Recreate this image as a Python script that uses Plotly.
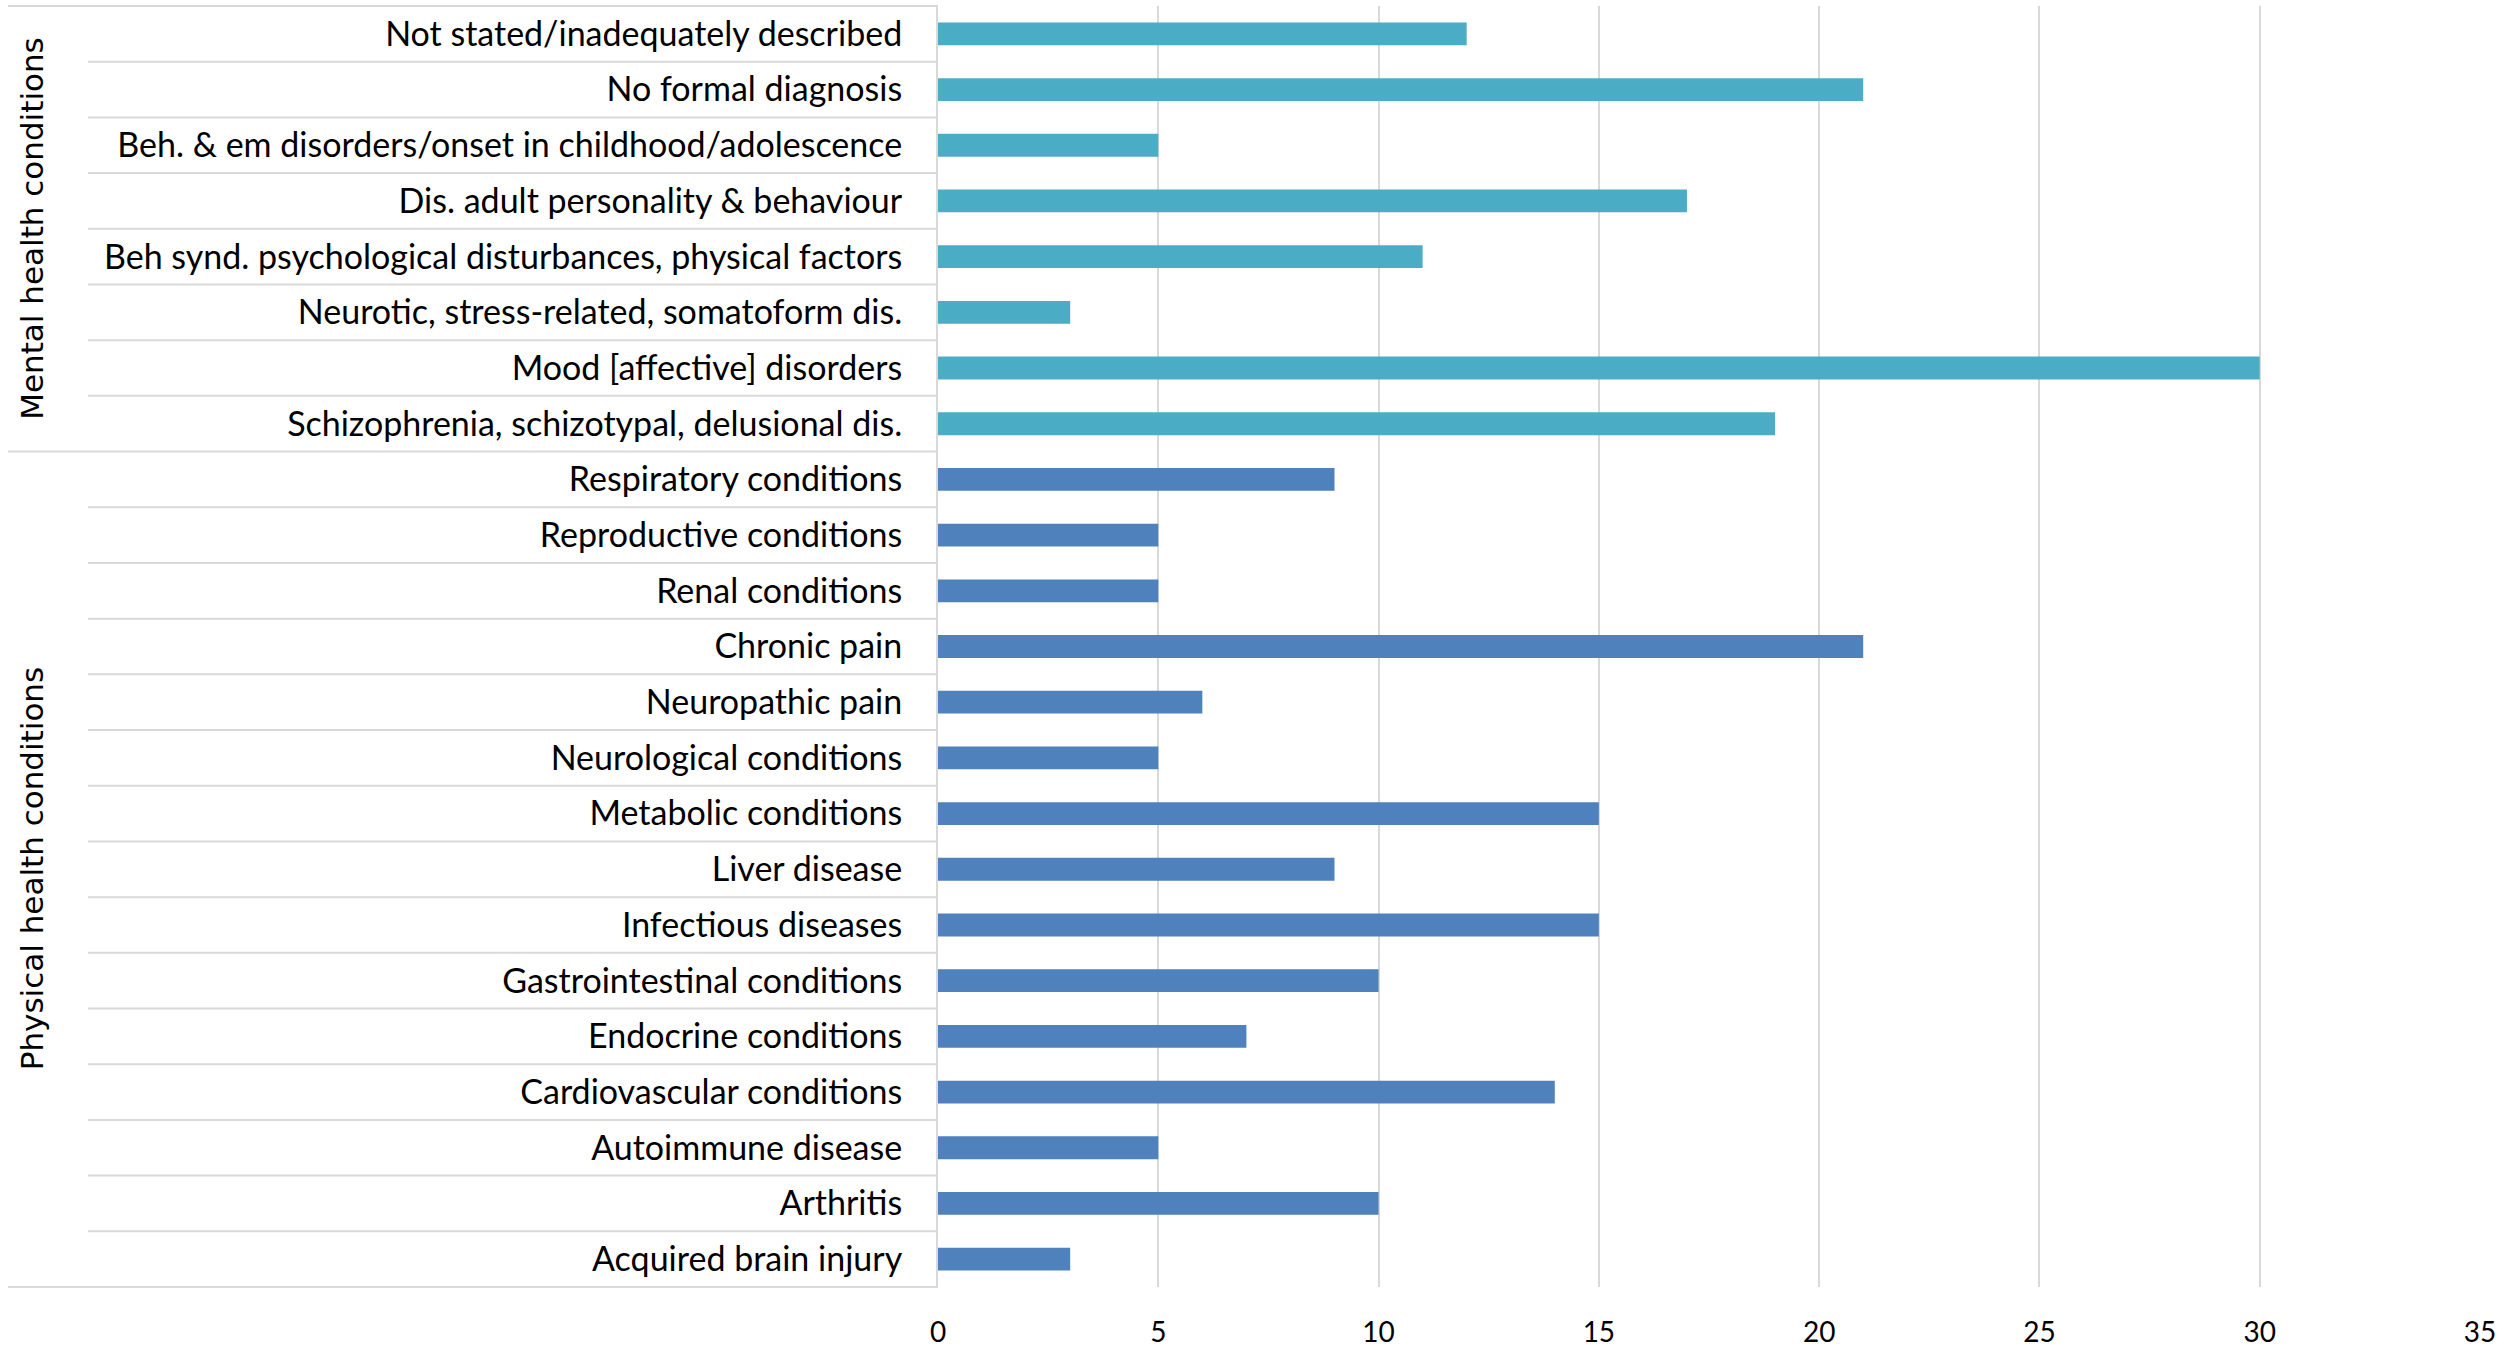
import plotly.graph_objects as go

physical_labels = [
    "Acquired brain injury", "Arthritis", "Autoimmune disease", "Cardiovascular conditions",
    "Endocrine conditions", "Gastrointestinal conditions", "Infectious diseases", "Liver disease",
    "Metabolic conditions", "Neurological conditions", "Neuropathic pain", "Chronic pain",
    "Renal conditions", "Reproductive conditions", "Respiratory conditions",
]
physical_values = [3, 10, 5, 14, 7, 10, 15, 9, 15, 5, 6, 21, 5, 5, 9]

mental_labels = [
    "Schizophrenia, schizotypal, delusional dis.", "Mood [affective] disorders",
    "Neurotic, stress-related, somatoform dis.",
    "Beh synd. psychological disturbances, physical factors",
    "Dis. adult personality & behaviour",
    "Beh. & em disorders/onset in childhood/adolescence",
    "No formal diagnosis", "Not stated/inadequately described",
]
mental_values = [19, 30, 3, 11, 17, 5, 21, 12]

group_names = ["Physical health conditions", "Mental health conditions"]
x_ticks = [0, 5, 10, 15, 20, 25, 30, 35]

all_labels = physical_labels + mental_labels
n = len(all_labels)

W, H = 2509, 1350
ml, mr, mt, mb = 938, 29, 6, 63
pw = W - ml - mr

LABEL_FONT = "Lato, Open Sans, sans-serif"


def px_to_paper_x(px):
    return (px - ml) / pw


fig = go.Figure()
fig.add_trace(go.Bar(y=physical_labels, x=physical_values, orientation="h",
                     marker=dict(color="#4F81BD", line=dict(width=0)), name="Physical"))
fig.add_trace(go.Bar(y=mental_labels, x=mental_values, orientation="h",
                     marker=dict(color="#4BACC6", line=dict(width=0)), name="Mental"))

shapes = []
line_col = "#D9D9D9"
for k in range(n + 1):
    yk = k / n
    group_boundary = k in (0, len(physical_labels), n)
    x0 = px_to_paper_x(8 if group_boundary else 88)
    shapes.append(dict(type="line", xref="paper", yref="y domain", x0=x0, x1=0,
                       y0=yk, y1=yk, line=dict(color=line_col, width=2), layer="below"))

annotations = []
n_phys = len(physical_labels)
centers = [n_phys / 2 / n, (n_phys + len(mental_labels) / 2) / n]
for name, c in zip(group_names, centers):
    annotations.append(dict(text=name, xref="paper", yref="y domain", x=px_to_paper_x(32), y=c,
                            textangle=-90, showarrow=False, xanchor="center", yanchor="middle",
                            font=dict(family="DejaVu Sans", size=31, color="#000000")))

fig.update_layout(
    width=W, height=H,
    margin=dict(l=ml, r=mr, t=mt, b=mb, autoexpand=False),
    paper_bgcolor="white", plot_bgcolor="white",
    showlegend=False, barmode="relative", bargap=0.59,
    shapes=shapes, annotations=annotations,
    font=dict(family=LABEL_FONT, color="#000000"),
)
fig.update_xaxes(range=[0, 35], tickvals=x_ticks, showgrid=True, gridcolor=line_col, gridwidth=2,
                 zeroline=False, showline=False, ticks="", automargin=False,
                 tickfont=dict(family=LABEL_FONT, size=28, color="#000000"),
                 ticklabelstandoff=26, fixedrange=True)
fig.update_yaxes(type="category", categoryorder="array", categoryarray=all_labels,
                 range=[-0.5, n - 0.5], showgrid=False, zeroline=False, automargin=False,
                 showline=True, linecolor=line_col, linewidth=2, ticks="",
                 tickfont=dict(family=LABEL_FONT, size=34, color="#000000"),
                 ticklabelstandoff=27, fixedrange=True)

fig.write_html("out.html")
